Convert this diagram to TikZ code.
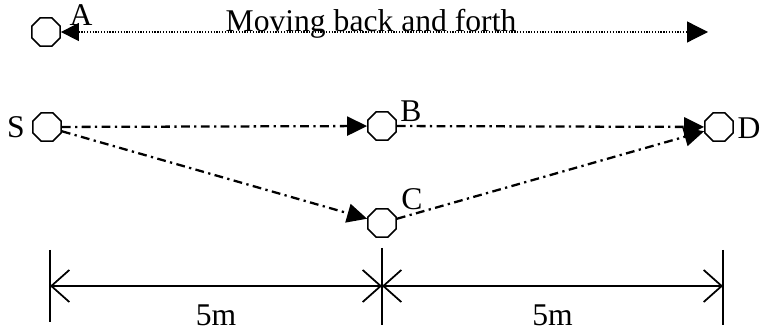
\documentclass[tikz,border=0pt]{standalone}
\usepackage{fontspec}
\setmainfont{Liberation Serif}
\usetikzlibrary{arrows.meta,shapes,positioning}

\begin{document}
\begin{tikzpicture}
          [x=0.02cm,y=-0.02cm,semithick,font=\fontsize{18}{20}\selectfont]
          \tikzstyle{station}=[draw=black,fill=white,regular polygon,regular polygon sides=8,minimum size=6.1mm,inner sep=0pt,line width=0.9pt]
          \tikzstyle{hop}=[-{Triangle[length=4mm,width=3.8mm]},line width=1.3pt,dash pattern=on 5pt off 2.5pt on 1.3pt off 2.5pt]
          \tikzstyle{dim}=[{Straight Barb[length=3.6mm,width=6.4mm]}-{Straight Barb[length=3.6mm,width=6.4mm]},line width=1pt]
          \useasboundingbox (0,0) rectangle (766,330);

          \node[station] (a) at (46,32) {};
          \node[station] (s) at (47,127) {};
          \node[station] (b) at (382,126) {};
          \node[station] (c) at (382,223) {};
          \node[station] (d) at (719,127) {};

          \node (la) at (81,15) {A};
          \node (ls) at (16,127) {S};
          \node (lb) at (411,111) {B};
          \node (lc) at (412,199) {C};
          \node (ld) at (749,128) {D};

          % moving node A
          \coordinate (aend) at (708,32);
          \draw[{Triangle[length=3.6mm,width=3.6mm]}-{Triangle[length=4.2mm,width=4.2mm]},line width=0.7pt,dash pattern=on 0.7pt off 0.9pt]
            (a) -- (aend);
          \node[anchor=base] (move) at (371,32) {Moving back and forth};

          \path[hop]
          (s) edge[] (b)
          (s) edge[] (c)
          (b) edge[] (d)
          (c) edge[] (d)
          ;

          % distances
          \coordinate (t1) at (50,250);  \coordinate (u1) at (50,322);
          \coordinate (t2) at (382,248); \coordinate (u2) at (382,325);
          \coordinate (t3) at (723,250); \coordinate (u3) at (723,325);
          \coordinate (m1) at (50,286);
          \coordinate (m2) at (382,286);
          \coordinate (m3) at (723,286);
          \draw[line width=1pt] (t1) -- (u1) (t2) -- (u2) (t3) -- (u3);
          \draw[dim] (m1) -- node[below=2.4mm] (d1) {5m} (m2);
          \draw[dim] (m2) -- node[below=2.4mm] (d2) {5m} (m3);
        \end{tikzpicture}
\end{document}
